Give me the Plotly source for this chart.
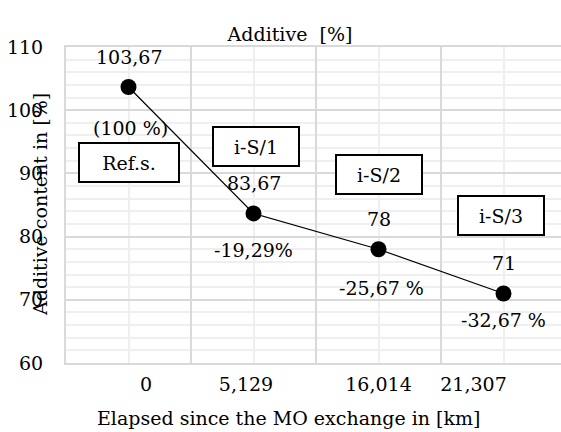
import numpy as np
import plotly.graph_objects as go

# ---- data ----
km_labels = ["0", "5,129", "16,014", "21,307"]
additive_values = [103.67, 83.67, 78, 71]
change_labels = ["(100 %)", "-19,29%", "-25,67 %", "-32,67 %"]
sample_names = ["Ref.s.", "i-S/1", "i-S/2", "i-S/3"]
y_ticks = [60, 70, 80, 90, 100, 110]

# ---- style / layout constants ----
FONT = "DejaVu Serif"
FS = 19
MAJOR_GRID = "#d9d9d9"
MINOR_GRID = "#efefef"
tick_shift = [0.14, -0.06, 0.0, -0.24]
change_shift = [(2, -41), (0, -37), (3, -39), (0, -27)]
box_pos = [(0.0, 91.8), (1.02, 94.3), (2.0, 89.75), (2.98, 83.4)]
box_w = [96, 82, 82, 82]

x = np.arange(len(km_labels))
value_text = [f"{v:g}".replace(".", ",") for v in additive_values]
xrange = [-0.5, -0.5 + 495 / 125]

fig = go.Figure()
fig.add_trace(go.Scatter(
    x=x, y=additive_values, mode="lines+markers",
    line=dict(color="black", width=1.2),
    marker=dict(color="black", size=16),
    showlegend=False, hoverinfo="skip"))
fig.add_trace(go.Scatter(
    x=x, y=additive_values, mode="markers", xaxis="x2",
    marker=dict(opacity=0), showlegend=False, hoverinfo="skip"))

f = dict(family=FONT, size=FS, color="black")
ann = []
for i, (xi, v) in enumerate(zip(x, additive_values)):
    ann.append(dict(x=xi, y=v, xref="x", yref="y", text=value_text[i],
                    showarrow=False, yshift=30, font=f))
    dx, dy = change_shift[i]
    ann.append(dict(x=xi, y=v, xref="x", yref="y", text=change_labels[i],
                    showarrow=False, xshift=dx, yshift=dy, font=f))
    bx, by = box_pos[i]
    ann.append(dict(x=bx, y=by, xref="x", yref="y", text=sample_names[i],
                    showarrow=False, bgcolor="white", bordercolor="black",
                    borderwidth=2, borderpad=1, width=box_w[i], height=35,
                    font=f))

ann.append(dict(x=0, y=0.5, xref="paper", yref="paper", xshift=-39,
                text="Additive content in [%]", textangle=-90,
                showarrow=False, font=f))
ann.append(dict(x=(288 - 66) / 495, y=0, xref="paper", yref="paper", yshift=-55,
                xanchor="center", yanchor="middle",
                text="Elapsed since the MO exchange in [km]",
                showarrow=False, font=f))

fig.update_layout(
    width=561, height=432,
    margin=dict(l=66, r=0, t=47, b=69),
    paper_bgcolor="white", plot_bgcolor="white",
    font=f,
    title=dict(text="Additive  [%]", x=290 / 561, xref="container",
               y=1 - 34 / 432, yref="container", xanchor="center",
               yanchor="middle", font=f),
    xaxis=dict(range=xrange, tickmode="linear", tick0=-0.5, dtick=1,
               showticklabels=False, showgrid=True, gridcolor=MAJOR_GRID,
               gridwidth=2, zeroline=False, showline=True,
               linecolor=MAJOR_GRID, linewidth=2, mirror=True,
               minor=dict(dtick=0.5, tick0=-0.5, showgrid=True,
                          gridcolor=MINOR_GRID, gridwidth=1.5)),
    xaxis2=dict(range=xrange, overlaying="x", anchor="y", side="bottom",
                tickmode="array", tickvals=[xi + s for xi, s in zip(x, tick_shift)],
                ticktext=km_labels, showgrid=False, zeroline=False,
                showline=False, ticks="", ticklabelstandoff=8, tickfont=f),
    yaxis=dict(range=[60, 110], tickmode="array", tickvals=y_ticks,
               showgrid=True, gridcolor=MAJOR_GRID, gridwidth=2,
               zeroline=False, showline=True, linecolor=MAJOR_GRID,
               linewidth=2, ticks="", ticklabelstandoff=17, tickfont=f,
               minor=dict(dtick=2, tick0=60, showgrid=True,
                          gridcolor=MINOR_GRID, gridwidth=1.5)),
    annotations=ann,
)

fig.write_html("out.html")
